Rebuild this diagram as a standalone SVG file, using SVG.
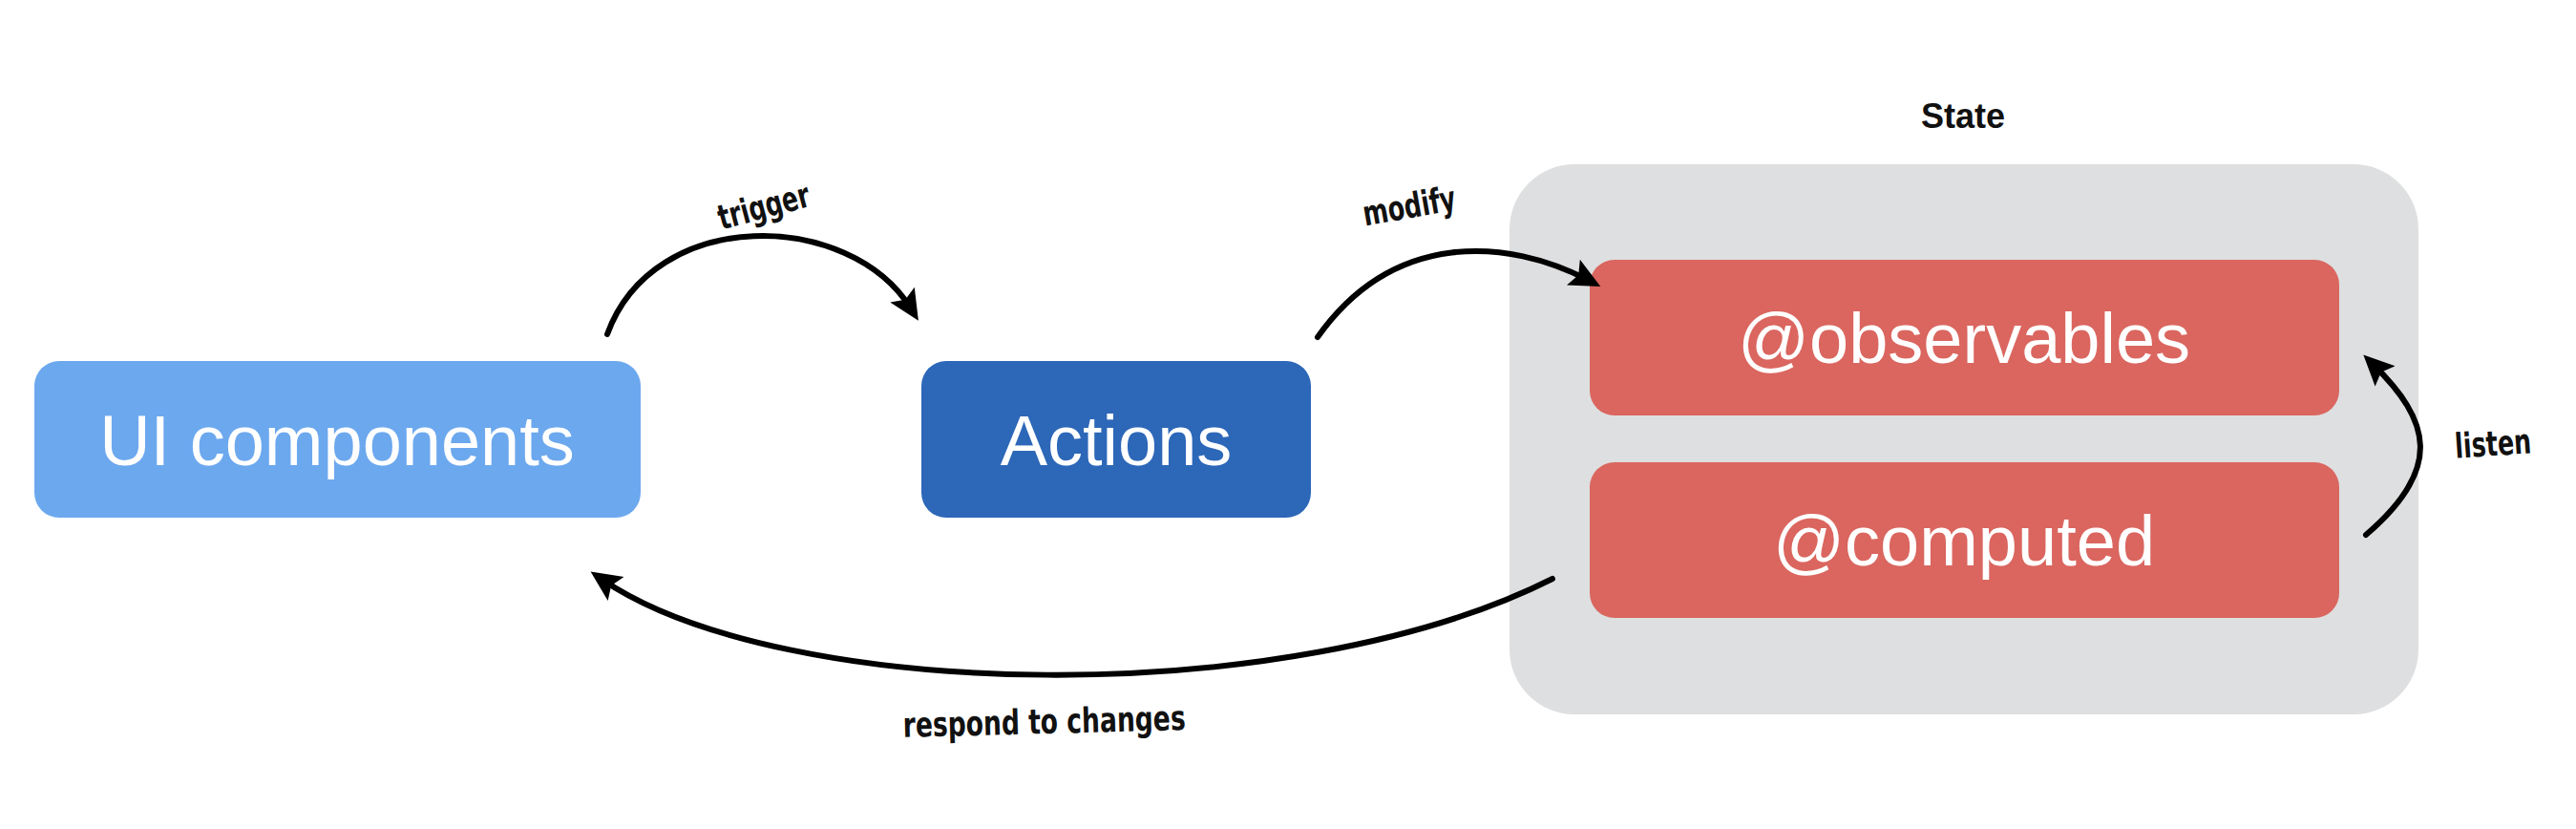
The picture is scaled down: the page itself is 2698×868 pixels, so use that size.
<svg xmlns="http://www.w3.org/2000/svg" width="2698" height="868" viewBox="0 0 2698 868">
<style>
.node-text{font-family:"Liberation Sans",Arial,sans-serif;font-size:74px;fill:#ffffff;text-anchor:middle}
.label{font-family:"DejaVu Sans","Liberation Sans",sans-serif;font-stretch:condensed;font-weight:bold;font-size:36px;fill:#111111;text-anchor:middle}
.conn{fill:none;stroke:#000000;stroke-width:6;stroke-linecap:round}
</style>
<defs>
<marker id="arrow" markerUnits="userSpaceOnUse" markerWidth="34" markerHeight="32" viewBox="0 0 34 32" refX="17" refY="16" orient="auto">
<path d="M0,1 L32,16 L0,31 L6,16 Z" fill="#000000"/>
</marker>
</defs>
<rect width="2698" height="868" fill="#ffffff"/>
<g id="state">
<rect x="1581" y="172" width="952" height="576" rx="68" ry="68" fill="#dedfe0"/>
<text x="2056" y="134" font-family="Liberation Sans,Arial,sans-serif" font-weight="bold" font-size="36" fill="#111111" text-anchor="middle" textLength="88" lengthAdjust="spacingAndGlyphs">State</text>
</g>
<g id="ui-components">
<rect x="36" y="378" width="635" height="164" rx="26" ry="26" fill="#6ca8ee"/>
<text class="node-text" x="353" y="487">UI components</text>
</g>
<g id="actions">
<rect x="965" y="378" width="408" height="164" rx="26" ry="26" fill="#2d67b8"/>
<text class="node-text" x="1169" y="487">Actions</text>
</g>
<g id="observables">
<rect x="1665" y="272" width="785" height="163" rx="26" ry="26" fill="#da665f"/>
<text class="node-text" x="2057" y="380">@observables</text>
</g>
<g id="computed">
<rect x="1665" y="484" width="785" height="163" rx="26" ry="26" fill="#da665f"/>
<text class="node-text" x="2057" y="592">@computed</text>
</g>
<g id="connectors">
<path class="conn" d="M636,350 C685,215 890,220 954,323" marker-end="url(#arrow)"/>
<path class="conn" d="M1380,353 C1460,240 1580,250 1663,293" marker-end="url(#arrow)"/>
<path class="conn" d="M2478,560 C2560,490 2545,440 2486,382" marker-end="url(#arrow)"/>
<path class="conn" d="M1626,606 C1350,745 820,735 631,607" marker-end="url(#arrow)"/>
<text class="label" x="0" y="0" transform="translate(803,228) rotate(-15)" textLength="98" lengthAdjust="spacingAndGlyphs">trigger</text>
<text class="label" x="0" y="0" transform="translate(1478,228) rotate(-10)" textLength="98" lengthAdjust="spacingAndGlyphs">modify</text>
<text class="label" x="0" y="0" transform="translate(2612,477) rotate(-4)" textLength="80" lengthAdjust="spacingAndGlyphs">listen</text>
<text class="label" x="0" y="0" transform="translate(1094,768) rotate(-1.5)" textLength="296" lengthAdjust="spacingAndGlyphs">respond to changes</text>
</g>
</svg>
